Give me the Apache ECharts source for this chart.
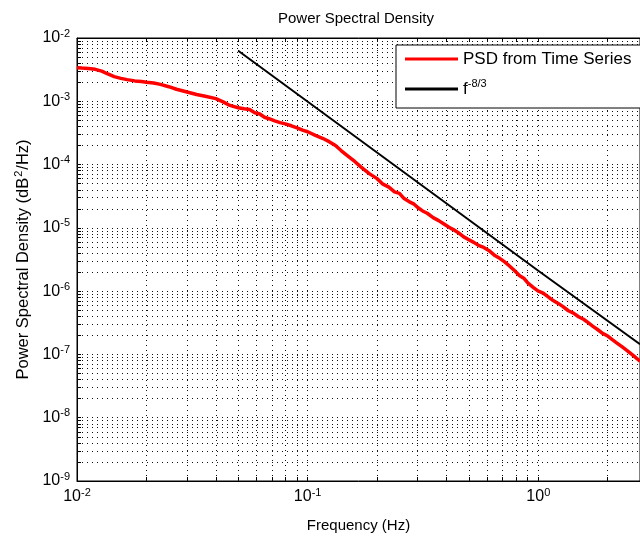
<!DOCTYPE html>
<html>
<head>
<meta charset="utf-8">
<script src="https://cdn.jsdelivr.net/npm/echarts@6/dist/echarts.min.js"></script>
<style>
  html, body { margin: 0; padding: 0; background: #fff; }
  #chart { width: 640px; height: 538px; }
</style>
</head>
<body>
<div id="chart"></div>
<script>
// PSD estimate
const freq = [
  0.0100, 0.0105, 0.0112, 0.0120, 0.0128, 0.0136, 0.0145, 0.0155, 0.0165, 0.0178,
  0.0190, 0.0200, 0.0215, 0.0230, 0.0250, 0.0270, 0.0300, 0.0330, 0.0360, 0.0400,
  0.0430, 0.0460, 0.0500, 0.0530, 0.0560, 0.0590, 0.0620, 0.0650, 0.0680, 0.0720,
  0.0760, 0.0800, 0.0850, 0.0900, 0.0950, 0.1000, 0.1080, 0.1160, 0.1240, 0.1320,
  0.1400, 0.1500, 0.1600, 0.1700, 0.1850, 0.2000, 0.2120, 0.2250, 0.2380, 0.2500,
  0.2620, 0.2750, 0.2880, 0.3000, 0.3150, 0.3300, 0.3500, 0.3700, 0.3900, 0.4100,
  0.4300, 0.4500, 0.4750, 0.5000, 0.5250, 0.5500, 0.5800, 0.6100, 0.6450, 0.6800,
  0.7150, 0.7500, 0.7900, 0.8300, 0.8650, 0.9000, 0.9500, 1.0000, 1.0500, 1.1000,
  1.1600, 1.2200, 1.2800, 1.3500, 1.4200, 1.5000, 1.5700, 1.6400, 1.7200, 1.8000,
  1.9000, 2.0000, 2.1000, 2.2000, 2.3200, 2.4500, 2.6000, 2.7600
];
const psd = [
  3.40e-3, 3.35e-3, 3.30e-3, 3.20e-3, 3.00e-3, 2.70e-3, 2.45e-3, 2.30e-3, 2.20e-3, 2.10e-3,
  2.05e-3, 2.00e-3, 1.95e-3, 1.85e-3, 1.70e-3, 1.55e-3, 1.40e-3, 1.28e-3, 1.20e-3, 1.10e-3,
  9.8e-4, 8.6e-4, 7.9e-4, 7.6e-4, 7.4e-4, 6.6e-4, 6.3e-4, 5.6e-4, 5.3e-4, 4.9e-4,
  4.6e-4, 4.4e-4, 4.1e-4, 3.8e-4, 3.5e-4, 3.3e-4, 2.9e-4, 2.6e-4, 2.3e-4, 2.0e-4,
  1.65e-4, 1.35e-4, 1.12e-4, 9.2e-5, 7.2e-5, 6.0e-5, 4.9e-5, 4.4e-5, 3.7e-5, 3.5e-5,
  2.9e-5, 2.6e-5, 2.4e-5, 2.1e-5, 1.85e-5, 1.7e-5, 1.45e-5, 1.3e-5, 1.15e-5, 1.02e-5,
  9.3e-6, 8.4e-6, 7.2e-6, 6.5e-6, 5.9e-6, 5.3e-6, 4.9e-6, 4.4e-6, 3.7e-6, 3.3e-6,
  2.9e-6, 2.5e-6, 2.1e-6, 1.75e-6, 1.6e-6, 1.35e-6, 1.15e-6, 1.0e-6, 9.3e-7, 8.2e-7,
  7.1e-7, 6.4e-7, 5.7e-7, 4.9e-7, 4.5e-7, 3.9e-7, 3.6e-7, 3.2e-7, 2.8e-7, 2.5e-7,
  2.15e-7, 1.95e-7, 1.7e-7, 1.5e-7, 1.3e-7, 1.12e-7, 9.4e-8, 7.8e-8
];

// reference slope line
const refFreq = [0.05, 1.0, 2.76];
const refPsd = [6.3e-3, 2.1e-6, 1.45e-7];

// axis ranges and grid values
const xMin = 0.01, xMax = 2.76;
const yMin = 1e-9, yMax = 1e-2;
const xMajor = [0.01, 0.1, 1];
const xMinor = [0.02, 0.03, 0.04, 0.05, 0.06, 0.07, 0.08, 0.09,
                0.2, 0.3, 0.4, 0.5, 0.6, 0.7, 0.8, 0.9, 2];
const yMajor = [1e-9, 1e-8, 1e-7, 1e-6, 1e-5, 1e-4, 1e-3, 1e-2];
const yMinor = [];
for (let e = -9; e < -2; e++) {
  for (let m = 2; m <= 9; m++) yMinor.push(Number(m + 'e' + e));
}

const font = "'Liberation Sans', Arial, Helvetica, sans-serif";

const chart = echarts.init(document.getElementById('chart'));

const powLabel = v => '{b|10}{e|' + Math.round(Math.log10(v)) + '}';
const powRich = {
  b: { fontSize: 16, fontFamily: font, color: '#000' },
  e: { fontSize: 11, fontFamily: font, color: '#000', verticalAlign: 'bottom', padding: [0, 0, 9, 0] }
};
const gridLine = { type: [1, 4], color: '#111', width: 1 };

// grid lines as segments across the plot, through the axes' own scales
const vLines = xMajor.slice(1).concat(xMinor).map(v => [{ coord: [v, yMin] }, { coord: [v, yMax] }]);
const hLines = yMajor.slice(1, -1).concat(yMinor).map(v => [{ coord: [xMin, v] }, { coord: [xMax, v] }]);

const logAxisX = (extra) => Object.assign({
  type: 'log',
  min: xMin,
  max: xMax,
  axisLine: { show: true, lineStyle: { color: '#000', width: 1 } },
  axisTick: { show: true, inside: true, length: 4, customValues: xMajor.concat(xMinor), lineStyle: { color: '#000' } },
  splitLine: { show: false }
}, extra);

const option = {
  backgroundColor: '#fff',
  animation: false,
  title: {
    text: 'Power Spectral Density',
    left: 273,
    top: 6,
    textStyle: { fontSize: 15, fontWeight: 'normal', color: '#000', fontFamily: font }
  },
  legend: {
    left: 396,
    top: 45,
    z: 10,
    orient: 'vertical',
    backgroundColor: '#fff',
    borderColor: '#000',
    borderWidth: 1,
    borderRadius: 0,
    padding: [5, 50, 10, 9],
    itemWidth: 53,
    itemHeight: 3,
    itemGap: 10,
    data: [
      { name: 'PSD from Time Series', icon: 'rect' },
      { name: 'f-8/3', icon: 'rect' }
    ],
    formatter: name => name === 'f-8/3' ? '{t|f}{s|-8/3}' : '{t|' + name + '}',
    textStyle: {
      fontSize: 17,
      fontFamily: font,
      color: '#000',
      lineHeight: 18,
      rich: {
        t: { fontSize: 17, fontFamily: font, color: '#000', lineHeight: 18 },
        s: { fontSize: 11, fontFamily: font, color: '#000', verticalAlign: 'bottom', padding: [0, 0, 9, 0] }
      }
    }
  },
  grid: {
    left: 77,
    right: -2,
    top: 38,
    bottom: 56,
    show: true,
    borderColor: '#000',
    borderWidth: 1,
    backgroundColor: '#fff'
  },
  xAxis: [
    logAxisX({
      name: 'Frequency (Hz)',
      nameLocation: 'middle',
      nameGap: 37,
      nameTextStyle: { fontSize: 15, fontFamily: font, color: '#000' },
      axisLabel: { customValues: xMajor, margin: 6, formatter: powLabel, rich: powRich }
    }),
    logAxisX({
      position: 'top',
      axisLabel: { show: false }
    })
  ],
  yAxis: [{
    type: 'log',
    min: yMin,
    max: yMax,
    name: 'Power Spectral Density (dB{s|2}/Hz)',
    nameLocation: 'middle',
    nameGap: 35,
    nameTextStyle: {
      fontSize: 16.5, fontFamily: font, color: '#000',
      rich: {
        s: { fontSize: 11, fontFamily: font, color: '#000', verticalAlign: 'bottom', padding: [0, 1, 9, 1] }
      }
    },
    axisLine: { show: true, lineStyle: { color: '#000', width: 1 } },
    axisTick: { show: true, inside: true, length: 4, customValues: yMajor.concat(yMinor), lineStyle: { color: '#000' } },
    axisLabel: { customValues: yMajor, margin: 7, formatter: powLabel, rich: powRich },
    splitLine: { show: false }
  }],
  series: [
    {
      type: 'line',
      data: [],
      silent: true,
      z: 1,
      markLine: {
        z: 1,
        silent: true,
        symbol: ['none', 'none'],
        label: { show: false },
        lineStyle: gridLine,
        emphasis: { disabled: true },
        data: vLines.concat(hLines)
      }
    },
    {
      name: 'PSD from Time Series',
      type: 'line',
      z: 3,
      showSymbol: false,
      symbol: 'none',
      color: '#ff0000',
      lineStyle: { color: '#ff0000', width: 3.5 },
      data: freq.map((f, i) => [f, psd[i]])
    },
    {
      name: 'f-8/3',
      type: 'line',
      z: 3,
      showSymbol: false,
      symbol: 'none',
      color: '#000',
      lineStyle: { color: '#000', width: 2 },
      data: refFreq.map((f, i) => [f, refPsd[i]])
    }
  ]
};

chart.setOption(option);
</script>
</body>
</html>
